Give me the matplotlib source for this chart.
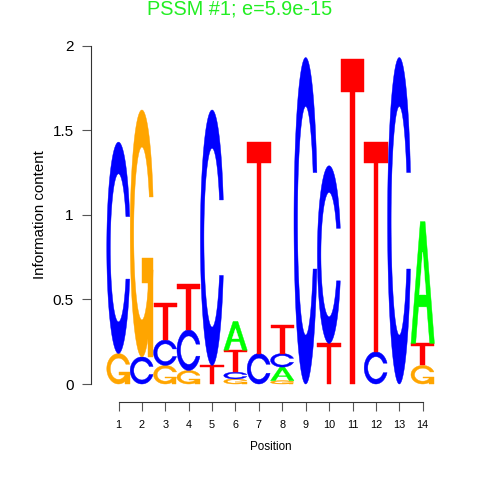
import numpy as np
import matplotlib
matplotlib.use("Agg")
import matplotlib.pyplot as plt
from matplotlib.patches import Polygon

plt.rcParams['font.family'] = ['Liberation Sans', 'DejaVu Sans']

# information content per position, stacked bottom -> top
positions = list(range(1, 15))
stacks = [
    [("G", 0.18), ("C", 1.25)],
    [("C", 0.16), ("G", 1.46)],
    [("G", 0.11), ("C", 0.15), ("T", 0.22)],
    [("G", 0.08), ("C", 0.24), ("T", 0.27)],
    [("T", 0.11), ("C", 1.51)],
    [("G", 0.03), ("C", 0.04), ("T", 0.13), ("A", 0.17)],
    [("C", 0.18), ("T", 1.25)],
    [("G", 0.02), ("A", 0.08), ("C", 0.08), ("T", 0.17)],
    [("C", 1.93)],
    [("T", 0.24), ("C", 1.05)],
    [("T", 1.92)],
    [("C", 0.19), ("T", 1.24)],
    [("C", 1.93)],
    [("G", 0.11), ("T", 0.13), ("A", 0.72)],
]
title = "PSSM #1; e=5.9e-15"

colors = {"A": "#00ff00", "C": "#0000ff", "G": "#ffa500", "T": "#ff0000"}


def c_shape():
    a1 = np.linspace(0.3 + np.pi / 2, np.pi, 100)
    a2 = np.linspace(np.pi, 1.5 * np.pi, 100)
    xl1 = 0.5 + 0.5 * np.sin(a1); yl1 = 0.5 + 0.5 * np.cos(a1)
    xl2 = 0.5 + 0.5 * np.sin(a2); yl2 = 0.5 + 0.5 * np.cos(a2)
    xl = np.r_[xl1, xl2]; yl = np.r_[yl1, yl2]
    x = np.r_[xl, xl[::-1]]; y = np.r_[yl, 1 - yl[::-1]]
    xi1 = 0.5 + 0.35 * np.sin(a1); yi1 = 0.5 + 0.35 * np.cos(a1)
    keep = yi1 <= yl1.max()
    xi1 = xi1[keep]; yi1 = yi1[keep]
    yi1[0] = yl1.max()
    xi2 = 0.5 + 0.35 * np.sin(a2); yi2 = 0.5 + 0.35 * np.cos(a2)
    xi = np.r_[xi1, xi2]; yi = np.r_[yi1, yi2]
    x1 = np.r_[xi, xi[::-1]]; y1 = np.r_[yi, 1 - yi[::-1]]
    x = np.r_[x, x1[::-1]]; y = np.r_[y, y1[::-1]]
    return x, y, xl1.max()


def letter_polys(ch):
    if ch == "A":
        outer = np.array([[0, 0], [4, 10], [6, 10], [10, 0], [8, 0], [6.8, 3],
                          [3.2, 3], [2, 0], [0, 0]]) * 0.1
        inner = np.array([[3.6, 4], [5, 7.5], [6.4, 4], [3.6, 4]]) * 0.1
        return [(outer, colors["A"]), (inner, "white")]
    if ch == "T":
        pts = np.array([[0, 10], [10, 10], [10, 9], [6, 9], [6, 0], [4, 0],
                        [4, 9], [0, 9]]) * 0.1
        return [(pts, colors["T"])]
    x, y, r1 = c_shape()
    out = [(np.c_[x, y], colors[ch])]
    if ch == "G":
        h1 = 0.4
        bar = np.array([[r1, h1], [0.5, h1], [0.5, h1 - 0.1], [r1 - 0.2, h1 - 0.1],
                        [r1 - 0.2, 0], [r1, 0], [r1, h1]])
        out.append((bar, colors["G"]))
    return out


fig = plt.figure(figsize=(4.8, 4.8), dpi=100)
ax = fig.add_axes([106.8 / 480, 0.2, 327.6 / 480, 338.3 / 480])

for pos, stack in zip(positions, stacks):
    base = 0.0
    for ch, h in stack:
        for pts, col in letter_polys(ch):
            xy = np.c_[pos - 0.5 + pts[:, 0], base + h * pts[:, 1]]
            ax.add_patch(Polygon(xy, closed=True, facecolor=col, edgecolor=col,
                                 linewidth=0.3, clip_on=False))
        base += h

ax.set_xlim(0.5, 14.5)
ax.set_ylim(0, 2)
for s in ("top", "right"):
    ax.spines[s].set_visible(False)
ax.spines["left"].set_position(("outward", 11.6))
ax.spines["bottom"].set_position(("outward", 12.7))
ax.spines["left"].set_bounds(0, 2)
ax.spines["bottom"].set_bounds(1, 14)
for s in ("left", "bottom"):
    ax.spines[s].set_color("#333333")
    ax.spines[s].set_linewidth(0.8)

ax.set_xticks(positions)
ax.set_xticklabels([str(p) for p in positions], fontsize=7.8)
ax.set_yticks([0, 0.5, 1, 1.5, 2])
ax.set_yticklabels(["0", "0.5", "1", "1.5", "2"], fontsize=11)
ax.tick_params(axis="both", length=6.3, width=0.8, color="#555555")
ax.tick_params(axis="x", pad=7)
ax.tick_params(axis="y", pad=6)

ax.set_xlabel("Position", fontsize=8.4, labelpad=8)
ax.set_ylabel("Information content", fontsize=10.8, labelpad=4)

fig.text(239.5 / 480, 1 - 9 / 480, title, color="#22ee22", fontsize=14.3,
         ha="center", va="center")

fig.savefig("out.png", dpi=100)
